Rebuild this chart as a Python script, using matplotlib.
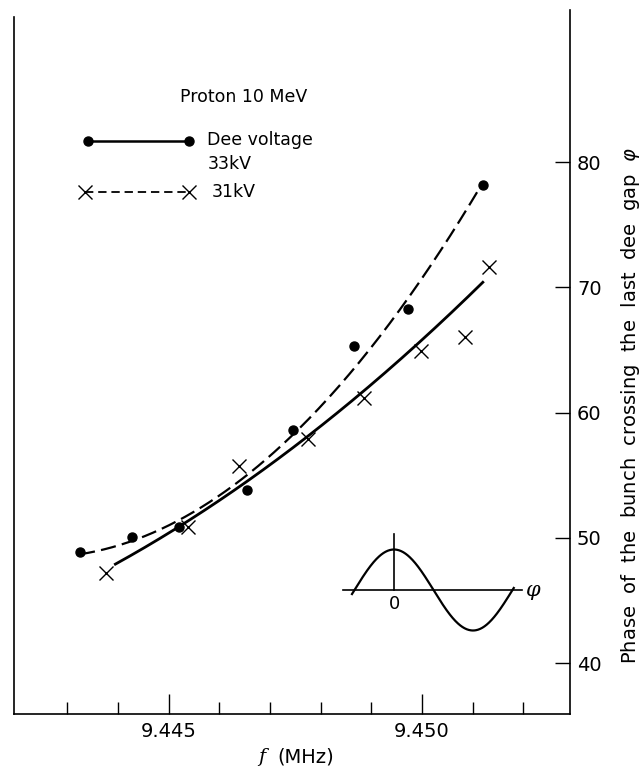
import numpy as np
import matplotlib
matplotlib.use("Agg")
import matplotlib.pyplot as plt

plt.rcParams['font.family'] = ['DejaVu Sans']
plt.rcParams['lines.scale_dashes'] = False

# ---- data ----
f_33kv = [9.44325, 9.44428, 9.44521, 9.44655, 9.44746, 9.44866, 9.44972, 9.45120]
phi_33kv = [48.9, 50.1, 50.9, 53.8, 58.6, 65.3, 68.3, 78.2]
f_31kv = [9.44377, 9.44538, 9.44639, 9.44775, 9.44886, 9.44998, 9.45085, 9.45132]
phi_31kv = [47.2, 50.9, 55.7, 57.9, 61.2, 64.9, 66.0, 71.6]
fit_weight_31kv = [1, 1, 1, 1, 1, 1, 0.1, 1]
y_ticks = [40, 50, 60, 70, 80]
x_major = [9.445, 9.450]
x_minor = [9.443, 9.444, 9.446, 9.447, 9.448, 9.449, 9.451, 9.452]
x_major_labels = ["9.445", "9.450"]

W, H = 641, 775
fig = plt.figure(figsize=(W / 100, H / 100), dpi=100)

def fx(px):
    return px / W

def fy(py):
    return 1 - py / H

ax = fig.add_axes([fx(14), fy(714), fx(570) - fx(14), fy(10) - fy(714)])
ax.set_xlim(9.44195, 9.45292)
ax.set_ylim(35.93, 92.14)

ax.spines['top'].set_visible(False)
for s in ['left', 'right', 'bottom']:
    ax.spines[s].set_linewidth(1.2)
ax.spines['left'].set_bounds(35.93, 91.6)

ax.yaxis.tick_right()
ax.set_yticks(y_ticks)
ax.set_yticklabels([str(v) for v in y_ticks])
ax.tick_params(axis='y', direction='in', length=11, width=1.0, pad=5,
               labelsize=14, left=False, right=True)
ax.set_xticks(x_major)
ax.set_xticklabels(x_major_labels)
ax.set_xticks(x_minor, minor=True)
ax.tick_params(axis='x', which='major', direction='in', length=14.5, width=1.0,
               pad=6, labelsize=14)
ax.tick_params(axis='x', which='minor', direction='in', length=8.5, width=1.0)

# fitted curves
c33 = np.polyfit(f_33kv, phi_33kv, 2)
xx33 = np.linspace(min(f_33kv), max(f_33kv), 200)
ax.plot(xx33, np.polyval(c33, xx33), color='black', lw=1.6, dashes=(11, 4.5))
c31 = np.polyfit(f_31kv, phi_31kv, 2, w=fit_weight_31kv)
xx31 = np.linspace(9.44395, 9.45120, 200)
ax.plot(xx31, np.polyval(c31, xx31), color='black', lw=2.0)

ax.plot(f_33kv, phi_33kv, 'o', color='black', ms=6.5, ls='none')
ax.plot(f_31kv, phi_31kv, 'x', color='black', ms=10, mew=1.0, ls='none')

# overlay in pixel coords for legend and inset
ov = fig.add_axes([0, 0, 1, 1], facecolor='none')
ov.set_xlim(0, W)
ov.set_ylim(H, 0)
ov.axis('off')

ov.text(180, 97, "Proton 10 MeV", fontsize=12.5, ha='left', va='center')
ov.plot([88, 189], [141, 141], color='black', lw=1.8, marker='o', ms=6.5)
ov.text(207, 140, "Dee voltage", fontsize=12.5, ha='left', va='center')
ov.text(208, 164, "33kV", fontsize=12.5, ha='left', va='center')
ov.plot([85, 189], [192, 192], color='black', lw=1.3, dashes=(6, 3.5))
ov.plot([85, 189], [192, 192], 'x', color='black', ms=10, mew=1.0)
ov.text(212, 192, "31kV", fontsize=12.5, ha='left', va='center')

# inset phase diagram
ov.plot([343, 522], [590, 590], color='black', lw=1.2)
ov.plot([394, 394], [534, 590], color='black', lw=1.2)
t = np.linspace(-np.pi / 2 - 0.1, 3 * np.pi / 2 + 0.05, 300)
ov.plot(394 + t * (158 / (2 * np.pi)), 590 - 40.5 * np.cos(t), color='black', lw=1.6)
ov.text(395, 604, "0", fontsize=13, ha='center', va='center')
ov.text(533, 590, "φ", fontsize=15, ha='center', va='center', style='italic',
        family=['DejaVu Serif'])

# axis labels
fig.text(fx(262), fy(757), "f", fontsize=14, style='italic', ha='center', va='center',
         family=['DejaVu Serif'])
fig.text(fx(306), fy(757), "(MHz)", fontsize=14, ha='center', va='center')
fig.text(fx(630), fy(406),
         "Phase  of  the  bunch  crossing  the  last  dee  gap  $\\varphi$",
         fontsize=14, rotation=90, ha='center', va='center')

fig.savefig("out.png", dpi=100)
